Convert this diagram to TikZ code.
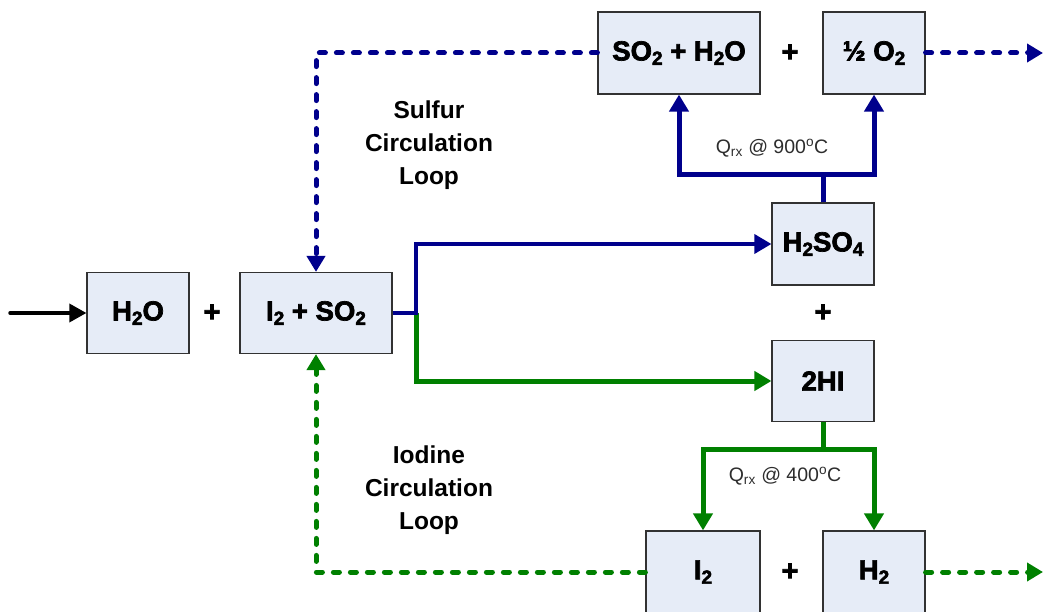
\documentclass[tikz,border=0pt]{standalone}
\usepackage{fontspec}
\setmainfont{Liberation Sans}
\newfontfamily\heavyfont[FakeBold=2.5]{Liberation Sans Bold}
\usetikzlibrary{arrows.meta}
\definecolor{navy}{RGB}{0,0,140}
\definecolor{grn}{RGB}{0,128,0}
\definecolor{boxfill}{RGB}{230,236,247}
\definecolor{boxline}{RGB}{50,50,50}
\definecolor{qtext}{RGB}{45,45,45}
\newcommand\sbs[1]{\raisebox{-0.3ex}{\fontsize{19}{19}\selectfont #1}}
\tikzset{
  box/.style={draw=boxline, fill=boxfill, line width=1.2pt, inner sep=0pt,
    font=\heavyfont\fontsize{27.5}{30}\selectfont},
  plus/.style={font=\heavyfont\fontsize{29}{30}\selectfont, inner sep=0pt},
  looptext/.style={align=center, font=\bfseries\fontsize{24.5}{33}\selectfont},
  qlabel/.style={text=qtext, font=\fontsize{19.5}{24}\selectfont, inner sep=0pt},
  tipbig/.tip={Triangle[length=17pt,width=19pt]},
  tipdash/.tip={Triangle[length=16pt,width=18pt]},
  bluemain/.style={draw=navy, line width=3.5pt},
  bluebranch/.style={draw=navy, line width=5pt, line join=miter},
  greenline/.style={draw=grn, line width=5pt, line join=miter},
  bluedash/.style={draw=navy, line width=5pt, line cap=round, dash pattern=on 6pt off 11pt},
  greendash/.style={draw=grn, line width=5pt, line cap=round, dash pattern=on 6pt off 11pt},
}
\begin{document}
\begin{tikzpicture}[x=1pt,y=-1pt]
\useasboundingbox (0,0) rectangle (1044,612);
\fill[white] (0,0) rectangle (1044,612);

% boxes
\node[box, minimum width=102pt, minimum height=81pt] (h2o) at (138,313) {H\sbs{2}O};
\node[box, minimum width=152pt, minimum height=81pt] (i2so2) at (316,313) {I\sbs{2} + SO\sbs{2}};
\node[box, minimum width=162pt, minimum height=82pt] (so2h2o) at (679,53) {SO\sbs{2} + H\sbs{2}O};
\node[box, minimum width=102pt, minimum height=82pt] (halfo2) at (874,53) {½ O\sbs{2}};
\node[box, minimum width=102pt, minimum height=82pt] (h2so4) at (823,244) {H\sbs{2}SO\sbs{4}};
\node[box, minimum width=102pt, minimum height=81pt] (hi) at (823,381) {2HI};
\node[box, minimum width=114pt, minimum height=82pt] (i2) at (703,572) {I\sbs{2}};
\node[box, minimum width=102pt, minimum height=82pt] (h2) at (874,572) {H\sbs{2}};

% plus signs
\node[plus] (p1) at (212,313) {+};
\node[plus] (p2) at (790,53) {+};
\node[plus] (p3) at (823,313) {+};
\node[plus] (p4) at (790,572) {+};

% loop texts
\node[looptext] (sloop) at (429,145) {Sulfur\\Circulation\\Loop};
\node[looptext] (iloop) at (429,490) {Iodine\\Circulation\\Loop};

% labels
\node[qlabel] (q900) at (772,148) {Q\textsubscript{rx} @ 900\textsuperscript{o}C};
\node[qlabel] (q400) at (785,476) {Q\textsubscript{rx} @ 400\textsuperscript{o}C};

% coordinates
\coordinate (start) at (10,313);
\coordinate (j) at (416,313);
\coordinate (bj) at (823,175);
\coordinate (gj) at (823,449);
\coordinate (eo) at (1043,53);
\coordinate (eh) at (1043,572);

% input arrow
\draw[line width=3.5pt, line cap=round, -{Triangle[length=17pt,width=18pt]}] (start) -- (h2o.west);

% split after I2 + SO2
\draw[greenline, -tipbig] (j) |- (hi.west);
\draw[bluemain, -tipbig] (i2so2.east) -- (j) |- (h2so4.west);

% H2SO4 decomposition
\draw[bluebranch] (h2so4.north) -- (bj);
\draw[bluebranch, tipbig-tipbig] (so2h2o.south) |- (bj) -| (halfo2.south);

% HI decomposition
\draw[greenline] (hi.south) -- (gj);
\draw[greenline, tipbig-tipbig] (i2.north) |- (gj) -| (h2.north);

% recycle loops
\draw[bluedash, -tipdash] (so2h2o.west) -| (i2so2.north);
\draw[greendash, -tipdash] (i2.west) -| (i2so2.south);
\draw[bluedash, -tipdash] (halfo2.east) -- (eo);
\draw[greendash, -tipdash] (h2.east) -- (eh);
\end{tikzpicture}
\end{document}
